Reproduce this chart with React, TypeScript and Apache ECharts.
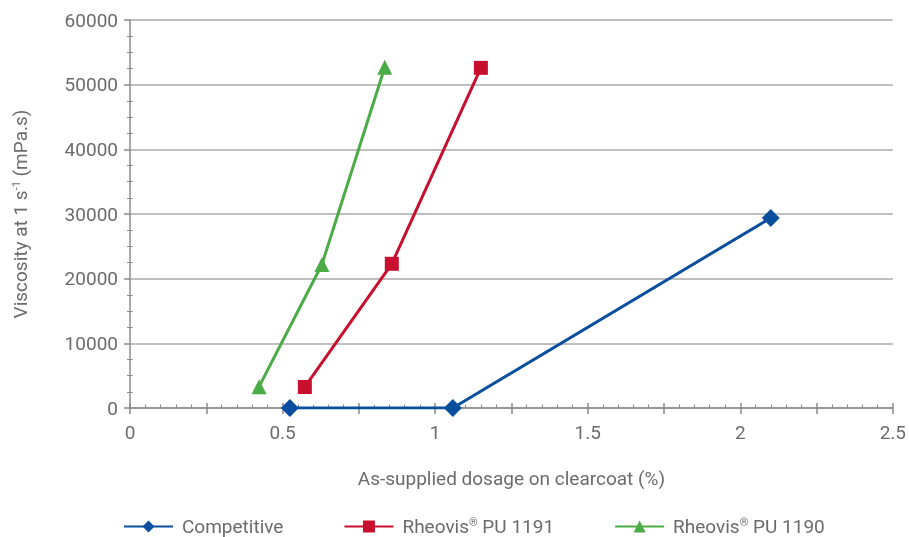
import React, { useEffect, useRef } from "react";
import * as echarts from "echarts";

const competitiveX = [0.524, 1.058, 2.1];
const competitiveY = [0, 0, 29400];
const pu1191X = [0.573, 0.858, 1.15];
const pu1191Y = [3250, 22300, 52600];
const pu1190X = [0.423, 0.629, 0.835];
const pu1190Y = [3300, 22200, 52700];

const seriesNames = ["Competitive", "Rheovis® PU 1191", "Rheovis® PU 1190"];
const xTickLabels = ["0", "0.5", "1", "1.5", "2", "2.5"];

const FONT = "Roboto";
const TXT = "#6b6b6b";
const AX = "#8a8a8a";

export default function App() {
  const ref = useRef<HTMLDivElement>(null);
  useEffect(() => {
    if (!ref.current) return;
    const chart = echarts.init(ref.current, undefined, { renderer: "svg" });
    const pair = (xs: number[], ys: number[]) => xs.map((x, i) => [x, ys[i]]);
    const xFmt = (v: number) => {
      const s = String(Math.round(v * 100) / 100);
      return xTickLabels.includes(s) ? s : "";
    };
    chart.setOption({
      animation: false,
      textStyle: { fontFamily: FONT },
      grid: { left: 130, right: 16, top: 20, bottom: 129 },
      legend: {
        left: 118,
        top: 512,
        itemWidth: 49,
        itemHeight: 15,
        itemGap: 60,
        data: seriesNames,
        textStyle: {
          fontFamily: FONT,
          fontSize: 19,
          color: TXT,
          padding: [0, 0, 0, 4],
          rich: { sup: { fontSize: 11, color: TXT, fontFamily: FONT, padding: [0, 0, 8, 0] } },
        },
        formatter: (n: string) => n.replace("®", "{sup|®}"),
      },
      xAxis: [
        {
          type: "value",
          min: 0,
          max: 2.5,
          interval: 0.25,
          position: "bottom",
          name: "As-supplied dosage on clearcoat (%)",
          nameLocation: "middle",
          nameGap: 61,
          nameTextStyle: { fontFamily: FONT, fontSize: 19, color: TXT },
          axisLine: { show: true, lineStyle: { color: AX, width: 1.5 } },
          axisTick: { show: true, inside: true, length: 5, lineStyle: { color: AX, width: 1.5 } },
          minorTick: { show: true, splitNumber: 5, length: 3.5, lineStyle: { color: AX, width: 1 } },
          axisLabel: { formatter: xFmt, margin: 15, fontFamily: FONT, fontSize: 19, color: TXT },
          splitLine: { show: false },
        },
        {
          type: "value",
          min: 0,
          max: 2.5,
          interval: 0.25,
          position: "top",
          offset: -388,
          axisLine: { show: false, onZero: false },
          axisTick: { show: true, inside: true, length: 6, lineStyle: { color: AX, width: 1.5 } },
          axisLabel: { show: false },
          splitLine: { show: false },
        },
      ],
      yAxis: [
        {
          type: "value",
          min: 0,
          max: 60000,
          interval: 10000,
          position: "left",
          name: "Viscosity at 1 s{sup|-1} (mPa.s)",
          nameLocation: "middle",
          nameGap: 100,
          nameTextStyle: {
            fontFamily: FONT,
            fontSize: 19,
            color: TXT,
            rich: { sup: { fontSize: 11, color: TXT, fontFamily: FONT, padding: [0, 0, 8, 0] } },
          },
          axisLine: { show: true, lineStyle: { color: AX, width: 1.5 } },
          axisTick: { show: true, inside: false, length: 6, lineStyle: { color: AX, width: 1.5 } },
          minorTick: { show: true, splitNumber: 4, length: 3, lineStyle: { color: AX, width: 1 } },
          axisLabel: { margin: 12, fontFamily: FONT, fontSize: 19, color: TXT, formatter: (v: number) => String(v) },
          splitLine: { show: true, lineStyle: { color: "#aaaaaa", width: 1.5 } },
        },
        {
          type: "value",
          min: 0,
          max: 60000,
          interval: 10000,
          position: "right",
          offset: -763,
          axisLine: { show: false, onZero: false },
          axisTick: { show: false },
          minorTick: { show: true, splitNumber: 4, length: 3, lineStyle: { color: AX, width: 1 } },
          axisLabel: { show: false },
          splitLine: { show: false },
        },
      ],
      series: [
        {
          name: seriesNames[0],
          type: "line",
          data: pair(competitiveX, competitiveY),
          symbol: "diamond",
          symbolSize: 18,
          itemStyle: { color: "#0a4f9d" },
          lineStyle: { color: "#0a4f9d", width: 3 },
        },
        {
          name: seriesNames[1],
          type: "line",
          data: pair(pu1191X, pu1191Y),
          symbol: "rect",
          symbolSize: 14,
          itemStyle: { color: "#c8102e" },
          lineStyle: { color: "#c8102e", width: 3 },
        },
        {
          name: seriesNames[2],
          type: "line",
          data: pair(pu1190X, pu1190Y),
          symbol: "triangle",
          symbolSize: 15,
          itemStyle: { color: "#4bab46" },
          lineStyle: { color: "#4bab46", width: 3 },
        },
      ],
    });
    return () => chart.dispose();
  }, []);
  return <div ref={ref} style={{ position: "fixed", left: 0, top: 0, width: 909, height: 537 }} />;
}
